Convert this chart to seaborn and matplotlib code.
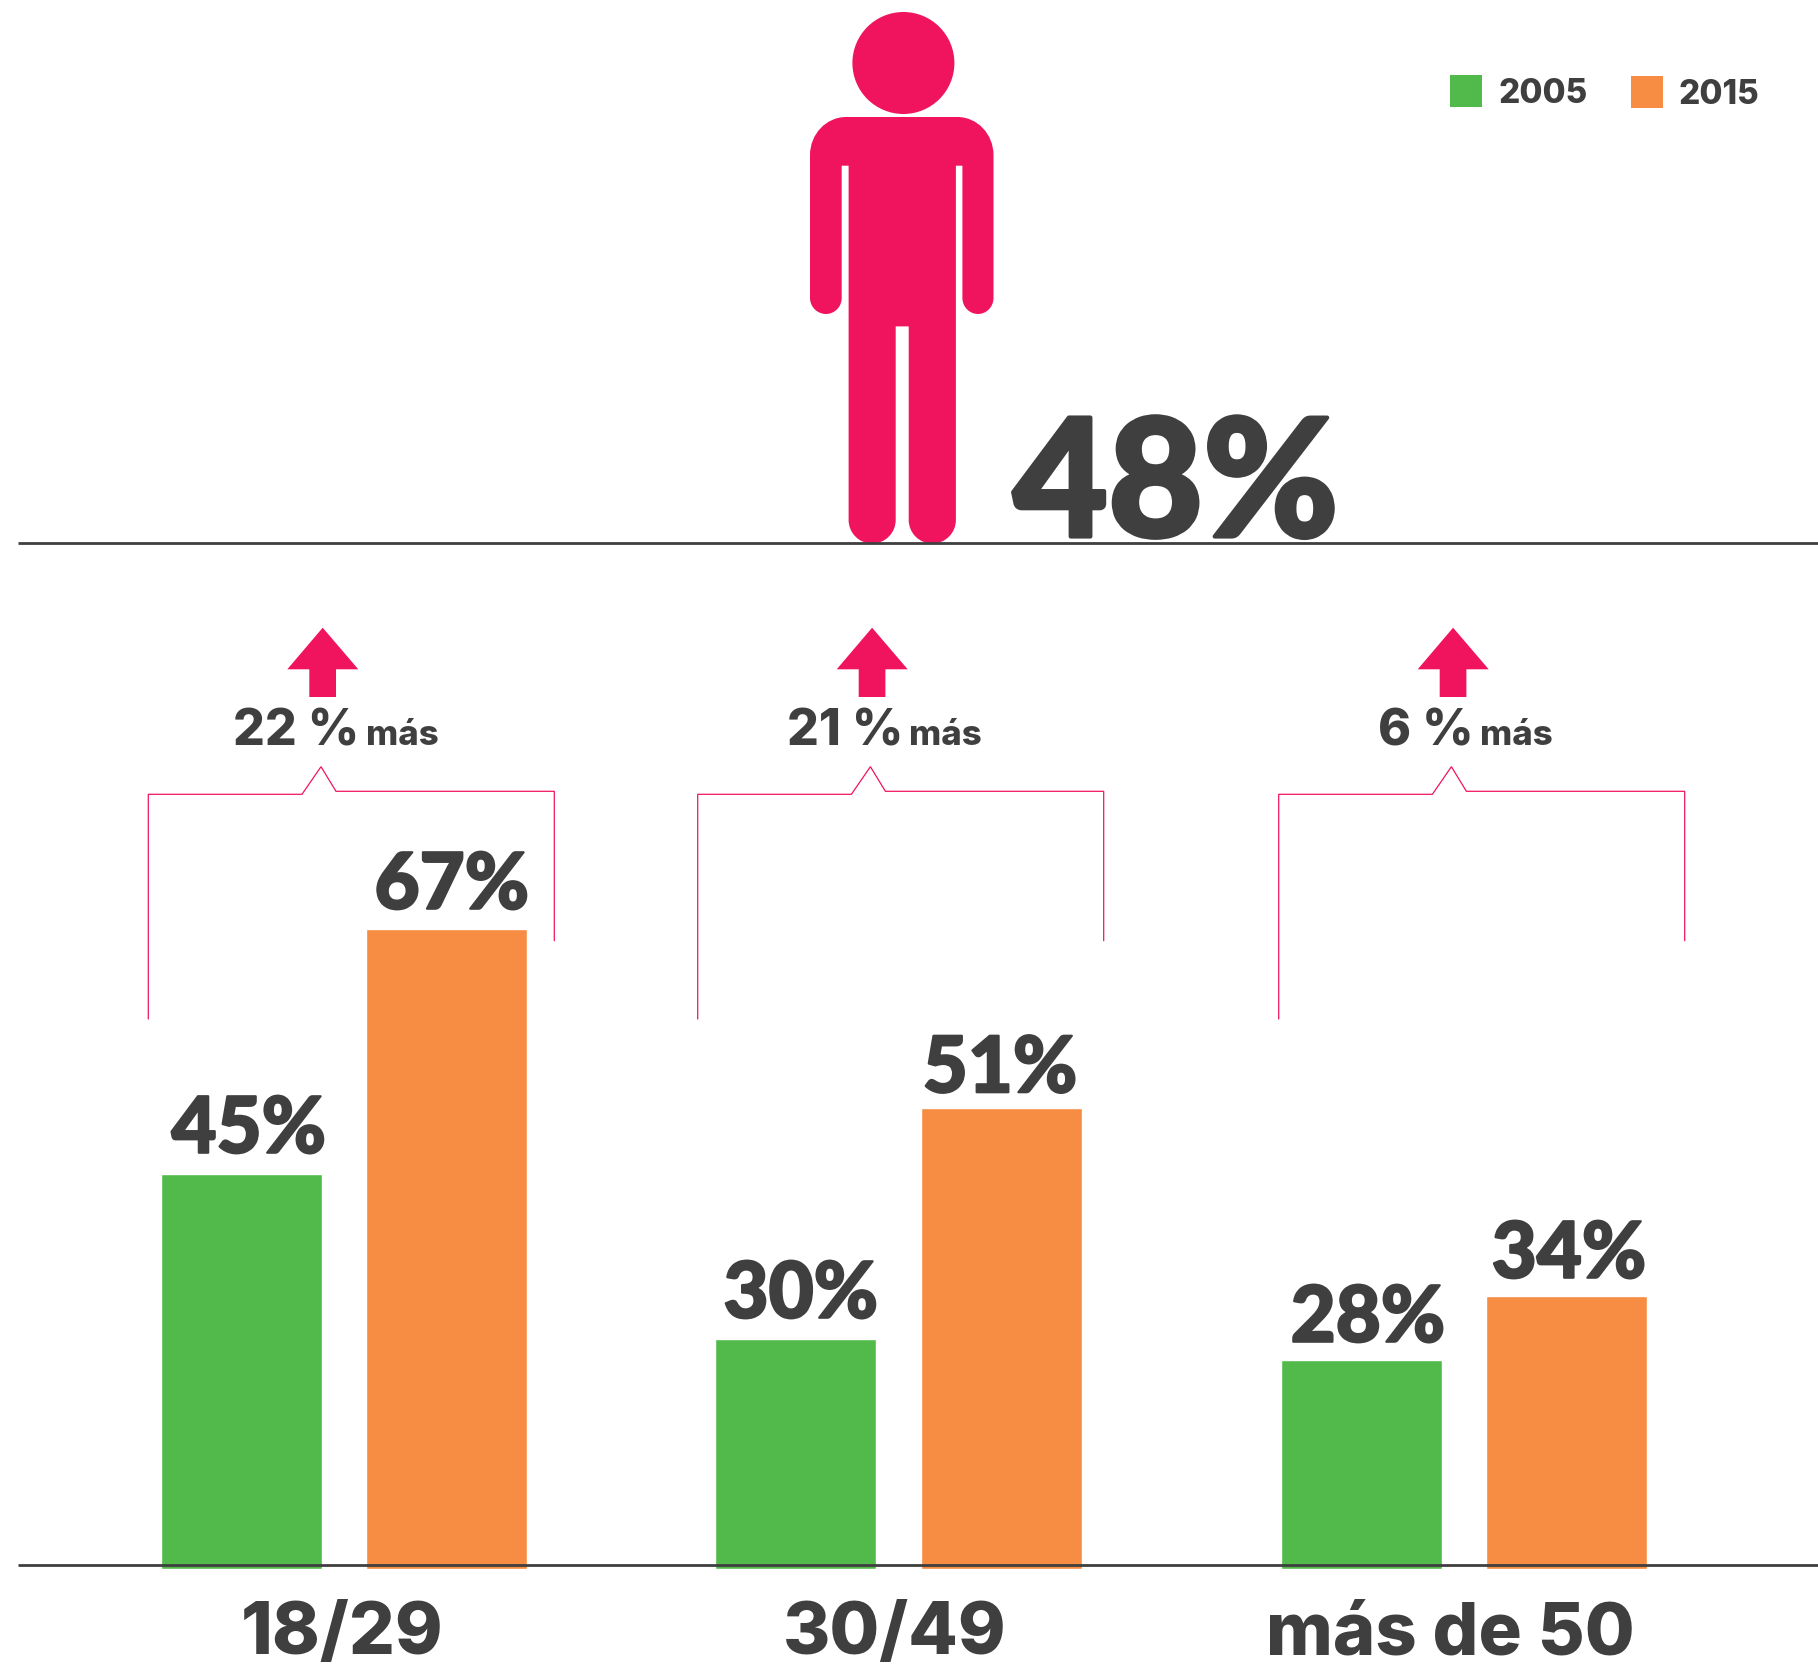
import matplotlib
matplotlib.use('Agg')
import matplotlib.pyplot as plt
import matplotlib.patheffects as pe
import numpy as np
import pandas as pd
import seaborn as sns
from matplotlib.patches import Circle, PathPatch, Polygon, Rectangle
from matplotlib.path import Path

# Data
groups = ['18/29', '30/49', 'más de 50']
years = ['2005', '2015']
labels_2005 = ['45%', '30%', '28%']
labels_2015 = ['67%', '51%', '34%']
# Bars in the original are not to scale with their labels, so keep the drawn heights
heights_2005 = [394.5, 229.5, 208.5]
heights_2015 = [639.5, 460.5, 272.5]
increase = ['22 %', '21 %', '6 %']
total = '48%'

# Layout, in pixels of the 1818x1668 picture
group_centers = [344.3, 898.5, 1464.4]
bracket_shift = [0, 549.4, 1130.4]
more_x = [(233, 366), (787, 909), (1378, 1480)]
cat_x = [342, 895, 1450]
bar_base = 1568.7

GREEN = '#52BA4A'
ORANGE = '#F68D42'
PINK = '#F0145F'
DARK = '#3F3F3F'
FONT = 'Inter'
WEIGHT = 800


def heavy(width):
    # Lato Black is still a bit lighter than the original lettering
    return [pe.withStroke(linewidth=width, foreground=DARK)]


def person_path():
    def corner(p0, ctrl, p1):
        p0, ctrl, p1 = np.array(p0), np.array(ctrl), np.array(p1)
        return [tuple(p0 + .55 * (ctrl - p0)), tuple(p1 + .55 * (ctrl - p1)), tuple(p1)]

    verts = [(846, 117), (957.5, 117)]
    codes = [Path.MOVETO, Path.LINETO]

    def line(p):
        verts.append(p)
        codes.append(Path.LINETO)

    def curve(p0, ctrl, p1):
        verts.extend(corner(p0, ctrl, p1))
        codes.extend([Path.CURVE4] * 3)

    curve((957.5, 117), (993.5, 117), (993.5, 155))
    line((993.5, 298))
    curve((993.5, 298), (993.5, 314), (978, 314))
    curve((978, 314), (962.4, 314), (962.4, 298))
    line((962.4, 165.7))
    line((955.9, 165.7))
    line((955.9, 520))
    curve((955.9, 520), (955.9, 543.6), (932.3, 543.6))
    curve((932.3, 543.6), (908.7, 543.6), (908.7, 520))
    line((908.7, 326.4))
    line((895.7, 326.4))
    line((895.7, 520))
    curve((895.7, 520), (895.7, 543.6), (872.1, 543.6))
    curve((872.1, 543.6), (848.6, 543.6), (848.6, 520))
    line((848.6, 165.7))
    line((841.7, 165.7))
    line((841.7, 298))
    curve((841.7, 298), (841.7, 314), (826, 314))
    curve((826, 314), (810, 314), (810, 298))
    line((810, 155))
    curve((810, 155), (810, 117), (846, 117))
    return Path(verts, codes)


def draw_bars(ax):
    df = pd.DataFrame({'center': group_centers * 2,
                       'height': heights_2005 + heights_2015,
                       'year': [years[0]] * 3 + [years[1]] * 3})
    sns.barplot(data=df, x='center', y='height', hue='year', native_scale=True,
                palette=[GREEN, ORANGE], saturation=1, width=.74, gap=.215,
                legend=False, ax=ax)
    ax.set_xlim(0, 1818)
    ax.set_ylim(bar_base - 1668, bar_base)
    ax.axis('off')

    # Value labels sit a bit above every bar
    for container, texts, pads, dx in [(ax.containers[0], labels_2005, [21.5, 21.5, 18.5], [7, 4.7, 6]),
                                       (ax.containers[1], labels_2015, [20.5, 16, 18.5], [5, -1, 2])]:
        for bar, txt, pad, d in zip(container, texts, pads, dx):
            ax.text(bar.get_x() + bar.get_width() / 2 + d, bar.get_height() + pad, txt,
                    ha='center', va='baseline', fontsize=56, fontweight='black',
                    family='Lato', color=DARK, path_effects=heavy(1.6))


def draw_decoration(deco):
    deco.set_xlim(0, 1818)
    deco.set_ylim(1668, 0)
    deco.axis('off')
    deco.patch.set_alpha(0)

    # Person and big number
    deco.add_patch(Circle((903.4, 63), 51, fc=PINK, ec='none'))
    deco.add_patch(PathPatch(person_path(), fc=PINK, ec='none'))
    deco.text(1013, 536.5, total, ha='left', va='baseline', fontsize=118,
              fontweight='black', family='Lato', color=DARK, path_effects=heavy(3))

    # Base lines
    deco.plot([17.5, 1818], [542.5, 542.5], color=DARK, lw=2, solid_capstyle='butt')
    deco.plot([17.5, 1818], [1565, 1565], color=DARK, lw=2, solid_capstyle='butt')

    # Legend
    deco.add_patch(Rectangle((1449.8, 75), 32.4, 32, fc=GREEN, ec='none'))
    deco.add_patch(Rectangle((1630.7, 76), 32.4, 32, fc=ORANGE, ec='none'))
    deco.text(1498, 103.3, years[0], fontsize=24, fontweight=WEIGHT, family=FONT, color=DARK)
    deco.text(1679, 104, years[1], fontsize=24, fontweight=WEIGHT, family=FONT, color=DARK)

    # Brackets, arrows and increase texts
    for shift, txt, (x_num, x_mas) in zip(bracket_shift, increase, more_x):
        bx = [148.3, 148.3, 302, 321, 336, 554.3, 554.3]
        by = [1019, 794.3, 794.3, 766.7, 791.3, 791.3, 940.7]
        deco.plot(np.array(bx) + shift, by, color=PINK, lw=.9, solid_joinstyle='miter')
        arrow = [(322.7, 627.7), (358.3, 669.3), (336, 669.3), (336, 697),
                 (309.3, 697), (309.3, 669.3), (287.3, 669.3)]
        deco.add_patch(Polygon([(x + shift, y) for x, y in arrow], fc=PINK, ec='none'))
        deco.text(x_num, 745, txt, fontsize=36, fontweight=WEIGHT, family=FONT, color=DARK)
        deco.text(x_mas, 745, 'más', fontsize=25, fontweight=WEIGHT, family=FONT, color=DARK)

    # Category labels
    for x, name in zip(cat_x, groups):
        deco.text(x, 1654.5, name, ha='center', va='baseline', fontsize=52,
                  fontweight=WEIGHT, family=FONT, color=DARK)


def main():
    sns.set_theme(style='white')
    fig = plt.figure(figsize=(18.18, 16.68), dpi=100, facecolor='white')
    ax = fig.add_axes([0, 0, 1, 1])
    deco = fig.add_axes([0, 0, 1, 1])
    draw_bars(ax)
    draw_decoration(deco)
    fig.savefig('out.png', dpi=100, facecolor='white')


if __name__ == "__main__":
    main()
